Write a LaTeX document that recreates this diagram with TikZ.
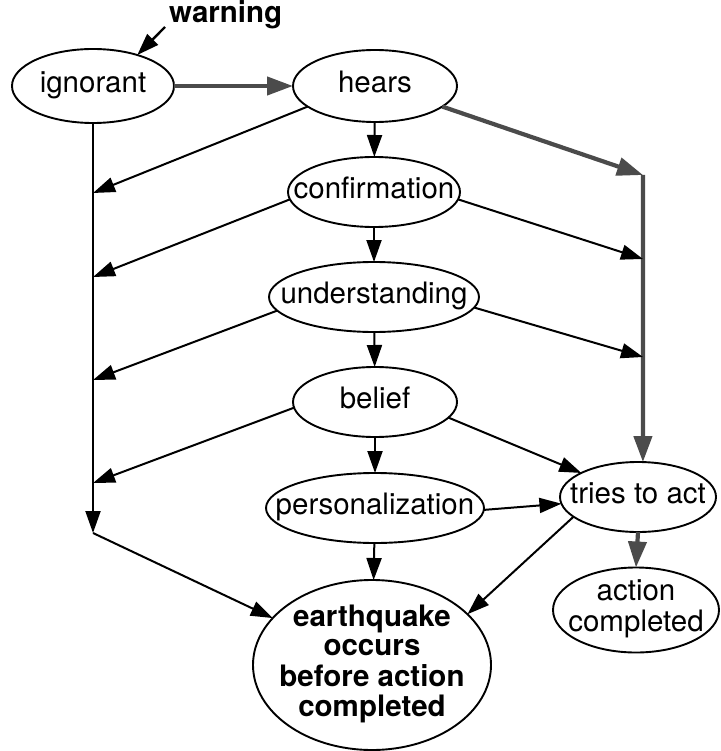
\documentclass[tikz,border=0pt]{standalone}
\usepackage{fontspec}
\setmainfont{TeX Gyre Heros}
\usetikzlibrary{shapes.geometric,arrows.meta}
\definecolor{gcol}{RGB}{75,75,75}
\newcommand{\zw}[1]{\makebox[0pt]{\begin{tabular}{@{}c@{}}#1\end{tabular}}}
\begin{document}
\begin{tikzpicture}[x=1pt,y=-1pt,
  ell/.style={ellipse, draw, line width=1.9pt, inner sep=0pt, outer sep=0pt, font=\fontsize{29.5}{29}\selectfont},
  arr/.style={line width=2pt, -{Triangle[length=22pt,width=15pt]}},
  garr/.style={line width=4.2pt, draw=gcol, -{Triangle[length=26pt,width=18pt]}},
  gline/.style={line width=4.2pt, draw=gcol}]
\useasboundingbox (0,0) rectangle (720,751);

% nodes
\node[ell, minimum width=162pt, minimum height=74pt] (ignorant) at (93,86) {\zw{ignorant}};
\node[ell, minimum width=164pt, minimum height=72pt] (hears) at (375,86) {\zw{hears}};
\node[ell, minimum width=172pt, minimum height=70pt] (confirmation) at (374,192) {\zw{confirmation}};
\node[ell, minimum width=210pt, minimum height=70pt] (understanding) at (374,297) {\zw{understanding}};
\node[ell, minimum width=164pt, minimum height=70pt] (belief) at (375,402) {\zw{belief}};
\node[ell, minimum width=218pt, minimum height=70pt] (personalization) at (375,508) {\zw{personalization}};
\node[ell, minimum width=156pt, minimum height=70pt] (tries) at (638,497) {\zw{tries to act}};
\node[ell, minimum width=166pt, minimum height=85pt] (action) at (636,610) {\zw{action\\completed}};
\node[ell, minimum width=238pt, minimum height=170pt, font=\fontsize{29.5}{29}\selectfont\bfseries] (earthquake) at (372,665) {\zw{earthquake\\occurs\\before action\\completed}};

\node[anchor=base west, inner sep=0pt, font=\fontsize{29.5}{29}\selectfont\bfseries] (warning) at (169,23) {warning};

% coordinates for line junctions
\coordinate (wtail) at (165,27);
\coordinate (L1) at (93,193);
\coordinate (L2) at (93,277);
\coordinate (L3) at (93,380);
\coordinate (L4) at (93,483);
\coordinate (Lend) at (93,533);
\coordinate (R1) at (643,175);
\coordinate (R2) at (643,259);
\coordinate (R3) at (643,357);

% warning
\draw[arr, line width=2.4pt] (wtail) -- (ignorant.35);

% gray paths
\draw[garr] (ignorant) -- (hears);
\draw[garr] (hears.343) -- (R1);
\draw[garr] (R1) -- (tries.82);
\draw[garr] (tries.south) -- (action.north);

% central column
\draw[arr] (hears) -- (confirmation);
\draw[arr] (confirmation) -- (understanding);
\draw[arr] (understanding) -- (belief);
\draw[arr] (belief) -- (personalization);
\draw[arr] (personalization) -- (earthquake);

% left side
\draw[arr] (ignorant) -- (Lend);
\draw[arr] (hears.197) -- (L1);
\draw[arr] (confirmation.185) -- (L2);
\draw[arr] (understanding.188) -- (L3);
\draw[arr] (belief.184) -- (L4);
\draw[arr] (Lend) -- (earthquake);

% right side
\draw[arr] (confirmation.355) -- (R2);
\draw[arr] (understanding.354) -- (R3);
\draw[arr] (belief.348) -- (tries.157);
\draw[arr] (personalization.359) -- (tries.185);
\draw[arr] (tries.197) -- (earthquake.28);
\end{tikzpicture}
\end{document}
